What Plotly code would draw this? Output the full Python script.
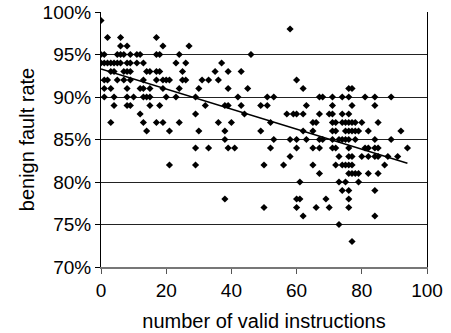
import plotly.graph_objects as go

# Benign fault rate (%) -> number of valid instructions for the points on that row
rate_values = [99, 98, 97, 96, 95, 94, 93, 92, 91, 90, 89, 88, 87, 86, 85, 84, 83, 82, 81, 80, 79, 78, 77, 76, 75, 73]
instr_by_rate = [
    [0],
    [58],
    [2, 6, 17],
    [6, 8, 19, 27],
    [0, 1, 5, 6, 7, 9, 11, 12, 17, 18, 24, 46],
    [0, 1, 2, 3, 4, 5, 6, 8, 9, 11, 13, 23, 26, 37],
    [3, 4, 7, 8, 9, 14, 15, 17, 18, 25, 35, 39, 43],
    [1, 2, 5, 7, 9, 13, 17, 19, 20, 21, 25, 26, 31, 33, 36, 60],
    [1, 3, 8, 12, 13, 15, 19, 24, 30, 39, 45, 62, 76, 77],
    [1, 4, 8, 10, 13, 14, 15, 20, 23, 29, 42, 51, 53, 67, 68, 71, 74, 76, 81, 84, 89],
    [4, 8, 9, 15, 18, 32, 38, 39, 43, 49, 51, 63, 71, 77, 84],
    [12, 29, 44, 57, 59, 60, 62, 67, 70, 71, 74, 76],
    [3, 13, 17, 19, 24, 36, 40, 52, 65, 66, 71, 72, 74, 75, 76, 77, 78, 80, 85],
    [14, 21, 30, 38, 49, 62, 65, 71, 72, 75, 76, 77, 78, 79, 82, 92],
    [38, 53, 58, 60, 63, 67, 68, 71, 73, 74, 75, 76, 78, 84, 89],
    [29, 33, 39, 41, 52, 60, 65, 67, 71, 72, 76, 81, 82, 84, 85, 94],
    [58, 73, 76, 77, 80, 82, 84, 85, 88, 91],
    [21, 29, 50, 56, 65, 72, 74, 75, 76, 77, 87],
    [67, 76, 77, 78, 79, 82, 85],
    [61, 73, 75, 79],
    [74, 76, 84],
    [38, 60, 61, 69, 76],
    [50, 60, 66, 70, 76],
    [62, 84],
    [73],
    [77],
]

trend_x = [0, 94]
trend_y = [93.3, 82.2]

x_ticks = [0, 20, 40, 60, 80, 100]
y_ticks = [70, 75, 80, 85, 90, 95, 100]
y_tick_labels = ["70%", "75%", "80%", "85%", "90%", "95%", "100%"]

xs, ys = [], []
for rate, xlist in zip(rate_values, instr_by_rate):
    for xv in xlist:
        xs.append(xv)
        ys.append(rate)

font_family = "Liberation Sans, Arial, sans-serif"

fig = go.Figure()
fig.add_trace(go.Scatter(
    x=xs, y=ys, mode="markers",
    marker=dict(symbol="diamond", size=5.5, color="black", line=dict(width=0)),
    showlegend=False, hoverinfo="skip",
))
fig.add_trace(go.Scatter(
    x=trend_x, y=trend_y, mode="lines",
    line=dict(color="black", width=1.5),
    showlegend=False, hoverinfo="skip",
))

fig.update_layout(
    width=451, height=333,
    margin=dict(l=101, r=24, t=12, b=66, autoexpand=False),
    paper_bgcolor="white", plot_bgcolor="white",
    font=dict(family=font_family, size=19, color="black"),
    xaxis=dict(
        range=[0, 100], tickvals=x_ticks, ticks="outside", ticklen=5,
        tickcolor="#555", showgrid=False, zeroline=False,
        showline=True, linecolor="#777", linewidth=2, automargin=False,
        title=dict(text="number of valid instructions", standoff=14,
                   font=dict(size=20)),
        tickfont=dict(size=19),
    ),
    yaxis=dict(
        range=[70, 100], tickvals=y_ticks, ticktext=y_tick_labels,
        ticks="outside", ticklen=5, tickcolor="black",
        showgrid=True, gridcolor="#222", gridwidth=1,
        zeroline=False, showline=True, linecolor="black", linewidth=1,
        mirror=True, automargin=False,
        title=dict(text="benign fault rate", standoff=2, font=dict(size=20)),
        tickfont=dict(size=19),
    ),
)

fig.write_html("out.html")
